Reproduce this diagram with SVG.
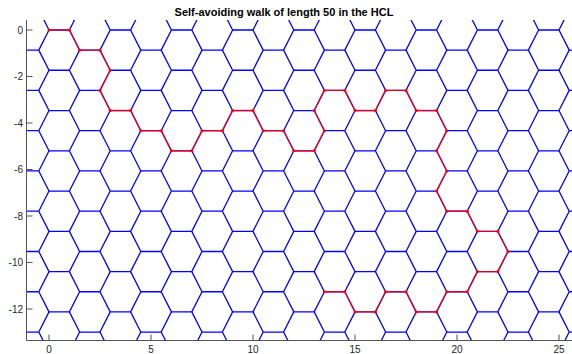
<svg xmlns="http://www.w3.org/2000/svg" xmlns:xlink="http://www.w3.org/1999/xlink" width="572" height="354" viewBox="0 0 572 354">
<style>
.lat{fill:none;stroke:#0000ff;stroke-width:1.3;stroke-linejoin:round}
.walk{fill:none;stroke:#ff0000;stroke-opacity:0.82;stroke-width:1.4;stroke-linejoin:round}
.ax{stroke:#555555;stroke-width:1;fill:none}
.tk{font-family:"Liberation Sans",Arial,sans-serif;font-size:10px;fill:#262626}
.ttl{font-family:"Liberation Sans",Arial,sans-serif;font-size:11px;font-weight:bold;fill:#000000}
</style>
<defs>
<clipPath id="plot"><rect x="26.5" y="20" width="546" height="320.5"/></clipPath>
<marker id="dot" markerUnits="userSpaceOnUse" markerWidth="4" markerHeight="4" refX="2" refY="2" viewBox="0 0 4 4"><circle cx="2" cy="2" r="1.5" fill="#ff0000"/></marker>
<g id="col">
<path class="lat" d="M79.6,9.87 L69.4,30 L79.6,50.14 L69.4,70.27 L79.6,90.41 L69.4,110.54 L79.6,130.68 L69.4,150.81 L79.6,170.95 L69.4,191.08 L79.6,211.22 L69.4,231.35 L79.6,251.49 L69.4,271.62 L79.6,291.76 L69.4,311.89 L79.6,332.03 L69.4,352.16"/>
<path class="lat" d="M38.8,9.87 L49,30 L38.8,50.14 L49,70.27 L38.8,90.41 L49,110.54 L38.8,130.68 L49,150.81 L38.8,170.95 L49,191.08 L38.8,211.22 L49,231.35 L38.8,251.49 L49,271.62 L38.8,291.76 L49,311.89 L38.8,332.03 L49,352.16"/>
<path class="lat" d="M49,30h20.4M49,70.27h20.4M49,110.54h20.4M49,150.81h20.4M49,191.08h20.4M49,231.35h20.4M49,271.62h20.4M49,311.89h20.4M49,352.16h20.4M79.6,50.14h20.4M79.6,90.41h20.4M79.6,130.68h20.4M79.6,170.95h20.4M79.6,211.22h20.4M79.6,251.49h20.4M79.6,291.76h20.4M79.6,332.03h20.4"/>
</g>
</defs>
<g id="lattice" clip-path="url(#plot)">
<use xlink:href="#col" x="-61.2"/>
<use xlink:href="#col" x="0"/>
<use xlink:href="#col" x="61.2"/>
<use xlink:href="#col" x="122.4"/>
<use xlink:href="#col" x="183.6"/>
<use xlink:href="#col" x="244.8"/>
<use xlink:href="#col" x="306"/>
<use xlink:href="#col" x="367.2"/>
<use xlink:href="#col" x="428.4"/>
<use xlink:href="#col" x="489.6"/>
<use xlink:href="#col" x="550.8"/>
</g>
<g id="walk">
<polyline class="walk" marker-start="url(#dot)" marker-mid="url(#dot)" marker-end="url(#dot)" points="49,30 69.4,30 79.6,50.14 100,50.14 110.2,70.27 100,90.41 110.2,110.54 130.6,110.54 140.8,130.68 161.2,130.68 171.4,150.81 191.8,150.81 202,130.68 222.4,130.68 232.6,110.54 253,110.54 263.2,130.68 283.6,130.68 293.8,150.81 314.2,150.81 324.4,130.68 314.2,110.54 324.4,90.41 344.8,90.41 355,110.54 375.4,110.54 385.6,90.41 406,90.41 416.2,110.54 436.6,110.54 446.8,130.68 436.6,150.81 446.8,170.95 436.6,191.08 446.8,211.22 467.2,211.22 477.4,231.35 497.8,231.35 508,251.49 497.8,271.62 477.4,271.62 467.2,291.76 446.8,291.76 436.6,311.89 416.2,311.89 406,291.76 385.6,291.76 375.4,311.89 355,311.89 344.8,291.76 324.4,291.76"/>
</g>
<g id="axes">
<path class="ax" d="M26.5,20V340.5H572"/>
<path class="ax" d="M26.5,30h6M26.5,76.5h6M26.5,123h6M26.5,169.5h6M26.5,216h6M26.5,262.5h6M26.5,309h6"/>
<path class="ax" d="M49,340.5v-6M151,340.5v-6M253,340.5v-6M355,340.5v-6M457,340.5v-6M559,340.5v-6"/>
<g class="tk" text-anchor="end">
<text x="23" y="33.5">0</text>
<text x="23" y="80">-2</text>
<text x="23" y="126.5">-4</text>
<text x="23" y="173">-6</text>
<text x="23" y="219.5">-8</text>
<text x="23" y="266">-10</text>
<text x="23" y="312.5">-12</text>
</g>
<g class="tk" text-anchor="middle">
<text x="49" y="353">0</text>
<text x="151" y="353">5</text>
<text x="253" y="353">10</text>
<text x="355" y="353">15</text>
<text x="457" y="353">20</text>
<text x="559" y="353">25</text>
</g>
</g>
<g id="title">
<text class="ttl" x="284" y="16" text-anchor="middle">Self-avoiding walk of length 50 in the HCL</text>
</g>
</svg>
